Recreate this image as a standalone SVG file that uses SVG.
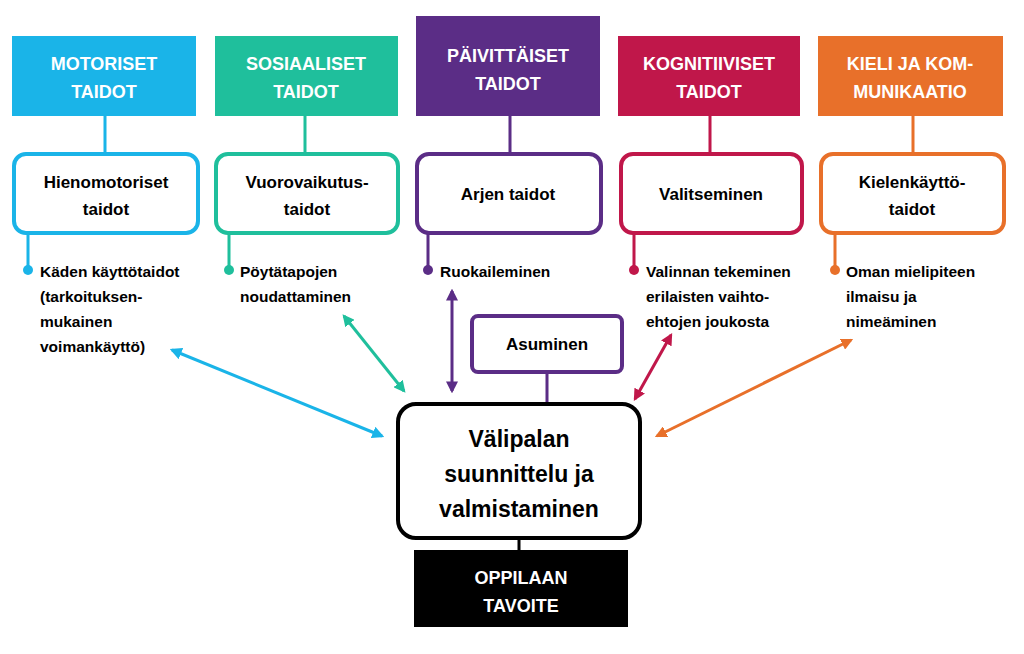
<svg xmlns="http://www.w3.org/2000/svg" width="1024" height="654" viewBox="0 0 1024 654">
<defs>
<style>
text{font-family:"Liberation Sans",Arial,sans-serif;font-weight:bold}
.h{fill:#fff;font-size:18px;text-anchor:middle}
.m{fill:#000;font-size:17px;text-anchor:middle}
.s{fill:#000;font-size:15.5px}
.rb{fill:#fff;stroke-width:4}
</style>
<marker id="ab" viewBox="0 0 10 10" refX="8" refY="5" markerWidth="4" markerHeight="4" orient="auto-start-reverse"><path d="M0,0L10,5L0,10z" fill="#1ab4e8"/></marker>
<marker id="ag" viewBox="0 0 10 10" refX="8" refY="5" markerWidth="4" markerHeight="4" orient="auto-start-reverse"><path d="M0,0L10,5L0,10z" fill="#1fbf9c"/></marker>
<marker id="ap" viewBox="0 0 10 10" refX="8" refY="5" markerWidth="4" markerHeight="4" orient="auto-start-reverse"><path d="M0,0L10,5L0,10z" fill="#5b2d86"/></marker>
<marker id="ac" viewBox="0 0 10 10" refX="8" refY="5" markerWidth="4" markerHeight="4" orient="auto-start-reverse"><path d="M0,0L10,5L0,10z" fill="#c0174a"/></marker>
<marker id="ao" viewBox="0 0 10 10" refX="8" refY="5" markerWidth="4" markerHeight="4" orient="auto-start-reverse"><path d="M0,0L10,5L0,10z" fill="#e8702a"/></marker>
</defs>
<g id="connectors" stroke-width="3" fill="none">
<path d="M105,116V153M28,233V270" stroke="#1ab4e8"/>
<path d="M305,116V153M229,233V270" stroke="#1fbf9c"/>
<path d="M510,116V153M428,233V270M547,372V403" stroke="#5b2d86"/>
<path d="M710,116V153M634,233V270" stroke="#c0174a"/>
<path d="M913,116V153M835,233V270" stroke="#e8702a"/>
<path d="M519,538V550" stroke="#000"/>
<line x1="172" y1="350" x2="382" y2="436" stroke="#1ab4e8" marker-start="url(#ab)" marker-end="url(#ab)"/>
<line x1="344" y1="316" x2="404" y2="391" stroke="#1fbf9c" marker-start="url(#ag)" marker-end="url(#ag)"/>
<line x1="452" y1="291" x2="452" y2="391" stroke="#5b2d86" marker-start="url(#ap)" marker-end="url(#ap)"/>
<line x1="671" y1="335" x2="635" y2="399" stroke="#c0174a" marker-start="url(#ac)" marker-end="url(#ac)"/>
<line x1="851" y1="340" x2="657" y2="436" stroke="#e8702a" marker-start="url(#ao)" marker-end="url(#ao)"/>
<circle cx="28" cy="270" r="5" fill="#1ab4e8" stroke="none"/>
<circle cx="229" cy="270" r="5" fill="#1fbf9c" stroke="none"/>
<circle cx="428" cy="270" r="5" fill="#5b2d86" stroke="none"/>
<circle cx="634" cy="270" r="5" fill="#c0174a" stroke="none"/>
<circle cx="835" cy="270" r="5" fill="#e8702a" stroke="none"/>
</g>
<g id="motoriset"><rect x="12" y="36" width="184" height="80" fill="#1ab4e8"/><text class="h" x="104" y="70">MOTORISET</text><text class="h" x="104" y="98">TAIDOT</text></g>
<g id="sosiaaliset"><rect x="215" y="36" width="183" height="80" fill="#1fbf9c"/><text class="h" x="306" y="70">SOSIAALISET</text><text class="h" x="306" y="98">TAIDOT</text></g>
<g id="paivittaiset"><rect x="416" y="16" width="184" height="100" fill="#5b2d86"/><text class="h" x="508" y="62">PÄIVITTÄISET</text><text class="h" x="508" y="90">TAIDOT</text></g>
<g id="kognitiiviset"><rect x="618" y="36" width="182" height="80" fill="#c0174a"/><text class="h" x="709" y="70">KOGNITIIVISET</text><text class="h" x="709" y="98">TAIDOT</text></g>
<g id="kieli"><rect x="818" y="36" width="185" height="80" fill="#e8702a"/><text class="h" x="910" y="70">KIELI JA KOM-</text><text class="h" x="910" y="98">MUNIKAATIO</text></g>
<g id="hienomotoriset"><rect class="rb" x="14" y="154" width="184" height="79" rx="12" stroke="#1ab4e8"/><text class="m" x="106" y="188">Hienomotoriset</text><text class="m" x="106" y="215">taidot</text></g>
<g id="vuorovaikutus"><rect class="rb" x="216" y="154" width="182" height="79" rx="12" stroke="#1fbf9c"/><text class="m" x="307" y="188">Vuorovaikutus-</text><text class="m" x="307" y="215">taidot</text></g>
<g id="arjen"><rect class="rb" x="417" y="154" width="184" height="79" rx="12" stroke="#5b2d86"/><text class="m" x="508" y="200">Arjen taidot</text></g>
<g id="valitseminen"><rect class="rb" x="621" y="154" width="181" height="79" rx="12" stroke="#c0174a"/><text class="m" x="711" y="200">Valitseminen</text></g>
<g id="kielenkaytto"><rect class="rb" x="821" y="154" width="183" height="79" rx="12" stroke="#e8702a"/><text class="m" x="912" y="188">Kielenkäyttö-</text><text class="m" x="912" y="215">taidot</text></g>
<g id="t1"><text class="s" x="40" y="277">Käden käyttötaidot</text><text class="s" x="40" y="302">(tarkoituksen-</text><text class="s" x="40" y="327">mukainen</text><text class="s" x="40" y="352">voimankäyttö)</text></g>
<g id="t2"><text class="s" x="240" y="277">Pöytätapojen</text><text class="s" x="240" y="302">noudattaminen</text></g>
<g id="t3"><text class="s" x="440" y="277">Ruokaileminen</text></g>
<g id="t4"><text class="s" x="646" y="277">Valinnan tekeminen</text><text class="s" x="646" y="302">erilaisten vaihto-</text><text class="s" x="646" y="327">ehtojen joukosta</text></g>
<g id="t5"><text class="s" x="846" y="277">Oman mielipiteen</text><text class="s" x="846" y="302">ilmaisu ja</text><text class="s" x="846" y="327">nimeäminen</text></g>
<g id="asuminen"><rect class="rb" x="472" y="316" width="150" height="56" rx="6" stroke="#5b2d86"/><text class="m" x="547" y="350">Asuminen</text></g>
<g id="valipala"><rect class="rb" x="398" y="404" width="242" height="134" rx="18" stroke="#000"/><text x="519" y="447" font-size="23" text-anchor="middle">Välipalan</text><text x="519" y="482" font-size="23" text-anchor="middle">suunnittelu ja</text><text x="519" y="517" font-size="23" text-anchor="middle">valmistaminen</text></g>
<g id="tavoite"><rect x="414" y="550" width="214" height="77" fill="#000"/><text class="h" x="521" y="584">OPPILAAN</text><text class="h" x="521" y="612">TAVOITE</text></g>
</svg>
